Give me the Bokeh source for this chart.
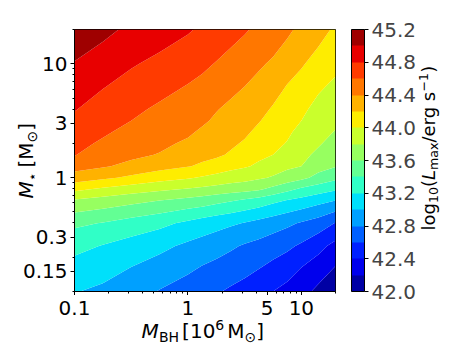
import numpy as np
from bokeh.plotting import figure
from bokeh.layouts import row, column
from bokeh.models import (ColorBar, LinearColorMapper, FixedTicker, PrintfTickFormatter,
                          CustomJSTickFormatter, Label, Range1d)
from bokeh.core.properties import value
from bokeh.embed import file_html
from bokeh.resources import INLINE

# ---- data ----
m_bh = [0.1, 0.178, 0.316, 0.562, 1.0, 1.334, 1.778, 2.371, 3.162, 4.217,
        5.623, 7.499, 10.0, 14.13, 20.0]                                      # 10^6 Msun
m_star = [0.1, 0.158, 0.251, 0.398, 0.631, 0.794, 1.0, 1.259, 1.585, 1.995,
          2.512, 3.162, 3.981, 6.31, 10.0, 20.0]                               # Msun
# log10(L_max / erg s^-1); rows follow m_star (bottom -> top), columns follow m_bh
log_lmax = [
    [43.01, 42.96, 42.88, 42.79, 42.71, 42.66, 42.62, 42.57, 42.53, 42.47, 42.40, 42.34, 42.27, 42.15, 42.02],
    [43.12, 43.07, 42.99, 42.91, 42.83, 42.78, 42.74, 42.70, 42.65, 42.60, 42.54, 42.48, 42.39, 42.30, 42.18],
    [43.26, 43.19, 43.12, 43.05, 42.96, 42.92, 42.88, 42.83, 42.78, 42.74, 42.69, 42.64, 42.57, 42.46, 42.34],
    [43.44, 43.39, 43.32, 43.25, 43.16, 43.11, 43.07, 43.03, 42.99, 42.94, 42.89, 42.84, 42.78, 42.71, 42.59],
    [43.78, 43.72, 43.66, 43.60, 43.54, 43.51, 43.46, 43.42, 43.37, 43.32, 43.25, 43.19, 43.14, 43.07, 43.00],
    [44.05, 43.97, 43.90, 43.84, 43.79, 43.76, 43.73, 43.70, 43.67, 43.63, 43.55, 43.46, 43.37, 43.30, 43.23],
    [44.31, 44.24, 44.16, 44.08, 44.02, 43.98, 43.94, 43.90, 43.87, 43.83, 43.78, 43.71, 43.65, 43.54, 43.45],
    [44.48, 44.42, 44.35, 44.27, 44.21, 44.17, 44.12, 44.06, 44.02, 43.97, 43.90, 43.84, 43.80, 43.67, 43.61],
    [44.61, 44.49, 44.44, 44.39, 44.29, 44.25, 44.23, 44.18, 44.10, 44.04, 44.00, 43.91, 43.85, 43.76, 43.67],
    [44.66, 44.57, 44.49, 44.44, 44.37, 44.31, 44.27, 44.23, 44.18, 44.10, 44.05, 43.99, 43.90, 43.82, 43.73],
    [44.71, 44.63, 44.54, 44.48, 44.43, 44.37, 44.32, 44.28, 44.23, 44.16, 44.09, 44.03, 43.95, 43.86, 43.79],
    [44.76, 44.67, 44.60, 44.53, 44.47, 44.43, 44.37, 44.32, 44.27, 44.21, 44.14, 44.07, 44.00, 43.90, 43.84],
    [44.81, 44.72, 44.64, 44.57, 44.51, 44.47, 44.41, 44.36, 44.31, 44.26, 44.18, 44.11, 44.04, 43.94, 43.88],
    [44.90, 44.81, 44.73, 44.66, 44.59, 44.55, 44.50, 44.45, 44.40, 44.34, 44.28, 44.19, 44.13, 44.03, 43.96],
    [44.99, 44.91, 44.82, 44.75, 44.68, 44.64, 44.59, 44.54, 44.49, 44.43, 44.37, 44.29, 44.22, 44.13, 44.05],
    [45.12, 45.05, 44.96, 44.90, 44.82, 44.77, 44.72, 44.67, 44.62, 44.56, 44.52, 44.44, 44.35, 44.27, 44.17],
]
levels = [42.0, 42.2, 42.4, 42.6, 42.8, 43.0, 43.2, 43.4, 43.6, 43.8,
          44.0, 44.2, 44.4, 44.6, 44.8, 45.0, 45.2]
cbar_ticks = [42.0, 42.4, 42.8, 43.2, 43.6, 44.0, 44.4, 44.8, 45.2]
x_ticks = [0.1, 1, 5, 10]
y_ticks = [0.15, 0.3, 1, 3, 10]
x_range = (0.1, 20)
y_range = (0.1, 20)


# ---- jet colours (matplotlib-like, 256 LUT, layer midpoints) ----
def jet(t):
    r = np.interp(t, [0, 0.35, 0.66, 0.89, 1], [0, 0, 1, 1, 0.5])
    g = np.interp(t, [0, 0.125, 0.375, 0.64, 0.91, 1], [0, 0, 1, 1, 0, 0])
    b = np.interp(t, [0, 0.11, 0.34, 0.65, 1], [0.5, 1, 1, 0, 0])
    return "#%02x%02x%02x" % (int(round(r * 255)), int(round(g * 255)), int(round(b * 255)))


nlay = len(levels) - 1
palette = []
for i in range(nlay):
    t = (i + 0.5) / nlay
    idx = min(int(t * 256), 255)
    palette.append(jet(idx / 255.0))

FONT = "DejaVu Sans"
# page geometry (px)
TOT_W, TOT_H = 455, 345
LW = 69            # left strip (y tick labels + y label)
FL, FT, FW, FH = 74, 29, 261, 262
FB = FT + FH
PR = 1             # right border of main plot
TB = 4             # bottom border of main plot (tick marks only)
P_W = (FL - LW) + FW + PR
LEFT_W = LW + P_W                 # width of left block (strips + plot)
RW = TOT_W - LEFT_W               # right block: colour bar + its label
BH_ = TOT_H - (FB + TB)


def blank_fig(width, height, top, bottom, **kw):
    f = figure(frame_width=width, frame_height=height, min_border_left=0, min_border_right=0,
               min_border_top=top, min_border_bottom=bottom, x_axis_location=None,
               y_axis_location=None, output_backend="svg", toolbar_location=None, **kw)
    f.outline_line_color = None
    f.background_fill_color = "white"
    f.border_fill_color = "white"
    f.grid.visible = False
    return f


# ---- main plot ----
p = figure(x_axis_type="log", y_axis_type="log", x_range=x_range, y_range=y_range,
           frame_width=FW, frame_height=FH, min_border_left=FL - LW, min_border_top=FT,
           min_border_bottom=TB, min_border_right=PR,
           output_backend="svg", toolbar_location=None)
p.grid.visible = False
p.outline_line_color = "black"
p.outline_line_width = 1
p.background_fill_color = "white"
p.border_fill_color = "white"

cr = p.contour(x=np.log10(m_bh), y=np.log10(m_star), z=np.array(log_lmax),
               levels=levels, fill_color=palette, line_color=None)


def pow10(obj):
    if isinstance(obj, np.ndarray):
        if obj.dtype == object:
            return [pow10(o) for o in obj]
        return np.power(10.0, obj)
    if isinstance(obj, (list, tuple)):
        return [pow10(o) for o in obj]
    return 10.0 ** obj


ds = cr.fill_renderer.data_source
newdata = dict(ds.data)
newdata["xs"] = pow10(ds.data["xs"])
newdata["ys"] = pow10(ds.data["ys"])
ds.data = newdata


def minors(lo, hi, majors):
    out = []
    for e in range(-2, 3):
        for k in range(1, 10):
            v = round(k * 10.0 ** e, 6)
            if lo <= v <= hi and not any(abs(v - m) < 1e-9 for m in majors):
                out.append(v)
    return out


p.xaxis.ticker = FixedTicker(ticks=x_ticks, minor_ticks=minors(*x_range, x_ticks))
p.yaxis.ticker = FixedTicker(ticks=y_ticks, minor_ticks=minors(*y_range, y_ticks))
for ax in (p.xaxis, p.yaxis):
    ax.formatter = CustomJSTickFormatter(code="return '';")
    ax.major_label_standoff = 0
    ax.major_tick_in = 0
    ax.major_tick_out = 4
    ax.minor_tick_in = 0
    ax.minor_tick_out = 2
    ax.major_tick_line_color = "black"
    ax.minor_tick_line_color = "black"
    ax.axis_line_color = "black"


def txt(f, s, lx, ly, size=20, italic=False, angle=0.0):
    # (lx, ly): centre-line anchor, px from the figure's left / bottom
    f.add_layout(Label(x=lx, y=ly, x_units="screen", y_units="screen",
                       text=s, text_font=FONT, text_font_size=f"{size:.1f}px",
                       text_font_style="italic" if italic else "normal",
                       text_align="left", text_baseline="middle",
                       angle=angle, text_color="black"))


A = np.pi / 2
MID = 0.346        # em-box centre above the alphabetic baseline (fraction of size)

# ---- left strip: y tick labels (on the shared log y scale) + y label ----
left = blank_fig(LW, FH, FT, TB, y_axis_type="log", y_range=p.y_range,
                 x_range=Range1d(0, LW))
left.text(x=[LW - 2] * len(y_ticks), y=y_ticks, text=[f"{v:g}" for v in y_ticks],
          text_font=value(FONT), text_font_size=value("20px"), text_color="black",
          text_align="right", text_baseline="middle")
# M_star [M_sun], baseline at page x=32, starting at page y=198
bl, ly = 32.0, FB - 198
txt(left, "M", bl - MID * 20, ly, italic=True, angle=A)
txt(left, "\u22c6", bl + 4 - MID * 14, ly + 17.3, size=14, angle=A)
txt(left, "[M", bl - MID * 20, ly + 31.0, angle=A)
txt(left, "\u2299", bl + 4 - MID * 14, ly + 56.1, size=14, angle=A)
txt(left, "]", bl - MID * 20, ly + 67.8, angle=A)

# ---- bottom strip: x tick labels (log x scale matching the main frame) + x label ----
dpx = FW / (np.log10(x_range[1]) - np.log10(x_range[0]))
xr_lo = 10 ** (np.log10(x_range[0]) - FL / dpx)
xr_hi = 10 ** (np.log10(x_range[1]) + (LEFT_W - FL - FW) / dpx)
bottom = blank_fig(LEFT_W, BH_, 0, 0, x_axis_type="log", x_range=Range1d(xr_lo, xr_hi),
                   y_range=Range1d(0, BH_))
bottom.text(x=x_ticks, y=[TOT_H - 307.5] * len(x_ticks), text=[f"{v:g}" for v in x_ticks],
            text_font=value(FONT), text_font_size=value("20px"), text_color="black",
            text_align="center", text_baseline="middle")
# M_BH [10^6 M_sun], baseline at page y=337, starting at page x=141
bx, bb = 141.0, TOT_H - 337
txt(bottom, "M", bx, bb + MID * 20, italic=True)
txt(bottom, "BH", bx + 17.5, bb - 4 + MID * 14, size=14)
txt(bottom, "[10", bx + 40.6, bb + MID * 20)
txt(bottom, "6", bx + 73.8, bb + 8 + MID * 14, size=14)
txt(bottom, "M", bx + 85.7, bb + MID * 20)
txt(bottom, "\u2299", bx + 103, bb - 4 + MID * 14, size=14)
txt(bottom, "]", bx + 114.7, bb + MID * 20)

# ---- right block: colour bar + label  log10(L_max / erg s^-1) ----
rightfig = blank_fig(RW, TOT_H, 0, 0, x_range=Range1d(0, 1), y_range=Range1d(0, 1))
mapper = LinearColorMapper(palette=palette, low=levels[0], high=levels[-1])
cb = ColorBar(color_mapper=mapper, ticker=FixedTicker(ticks=cbar_ticks),
              formatter=PrintfTickFormatter(format="%.1f"),
              width=13, height=FH, margin=0, padding=0,
              location=(351 - LEFT_W, TOT_H - FB),
              major_label_text_font=FONT, major_label_text_font_size="20px",
              major_tick_in=0, major_tick_out=4, major_tick_line_color="black",
              bar_line_color="black", bar_line_width=1, label_standoff=3,
              border_line_color=None, background_fill_alpha=0)
rightfig.add_layout(cb)

bl, cy = 434.0 - LEFT_W, TOT_H - 230
txt(rightfig, "log", bl - MID * 18, cy, size=18, angle=A)
txt(rightfig, "10", bl + 3.6 - MID * 12.6, cy + 27.45, size=12.6, angle=A)
txt(rightfig, "(", bl - MID * 18, cy + 43.45, size=18, angle=A)
txt(rightfig, "L", bl - MID * 18, cy + 50.45, size=18, italic=True, angle=A)
txt(rightfig, "max", bl + 3.6 - MID * 12.6, cy + 60.45, size=12.6, angle=A)
txt(rightfig, "/erg s", bl - MID * 18, cy + 87.95, size=18, angle=A)
txt(rightfig, "\u22121", bl - 7 - MID * 12.6, cy + 139.05, size=12.6, angle=A)
txt(rightfig, ")", bl - MID * 18, cy + 157.65, size=18, angle=A)

layout = row(column(row(left, p), bottom), rightfig)
open("out.html", "w").write(file_html(layout, INLINE))
